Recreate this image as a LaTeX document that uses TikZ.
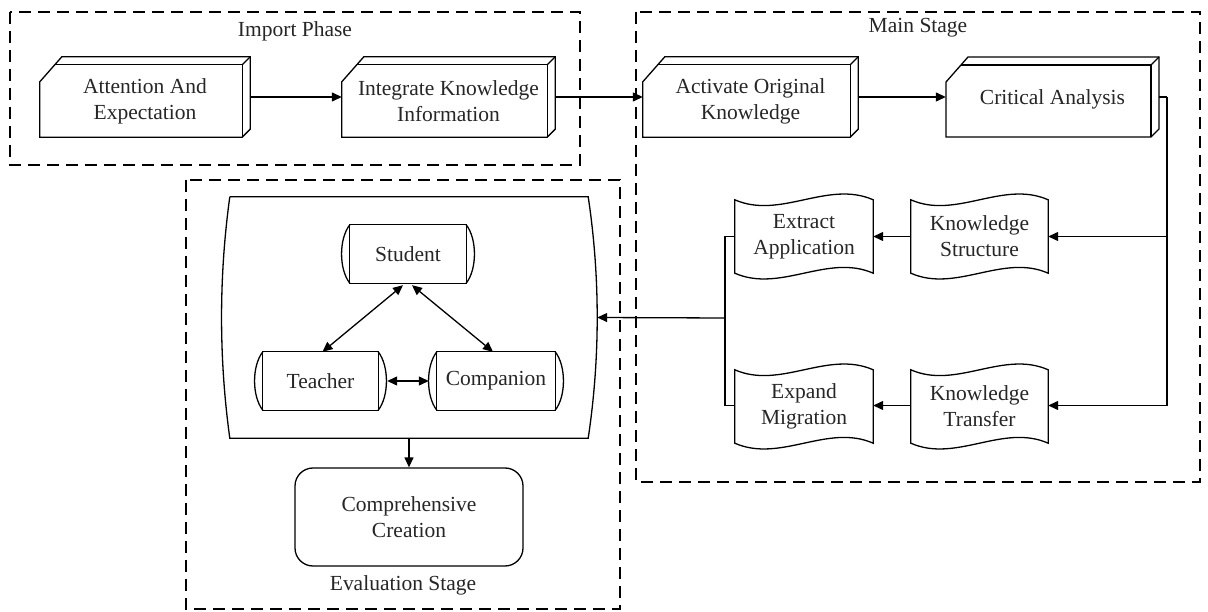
\documentclass[tikz,border=0pt]{standalone}
\usepackage{fontspec}
\setmainfont{Liberation Serif}
\usetikzlibrary{arrows.meta,calc}
\newcommand\threedbox[1]{%
  \draw[ln] (#1.south west) -- ([yshift=-17pt]#1.north west) -- ([shift={(22pt,8pt)}]#1.north west)
    -- ([shift={(8pt,8pt)}]#1.north east) -- ([shift={(8pt,8pt)}]#1.south east) -- (#1.south east) -- cycle;
  \draw[ln] ([xshift=15pt]#1.north west) -- (#1.north east) -- (#1.south east);
  \draw[ln] (#1.north east) -- ([shift={(8pt,8pt)}]#1.north east);}
\newcommand\wavebox[1]{%
  \draw[ln] (#1.north west) .. controls ($(#1.north west)!0.33!(#1.north east)+(0,20)$) and ($(#1.north west)!0.67!(#1.north east)+(0,-20)$) .. (#1.north east)
    -- (#1.south east) .. controls ($(#1.south west)!0.67!(#1.south east)+(0,-20)$) and ($(#1.south west)!0.33!(#1.south east)+(0,20)$) .. (#1.south west) -- cycle;}
\newcommand\drumbox[1]{%
  \draw[ln] (#1.north west) rectangle (#1.south east);
  \draw[ln] (#1.north west) .. controls ([xshift=-11pt,yshift=-14pt]#1.north west) and ([xshift=-11pt,yshift=14pt]#1.south west) .. (#1.south west);
  \draw[ln] (#1.north east) .. controls ([xshift=11pt,yshift=-14pt]#1.north east) and ([xshift=11pt,yshift=14pt]#1.south east) .. (#1.south east);}
\begin{document}
\begin{tikzpicture}[x=1pt,y=-1pt,
  every node/.style={font=\fontsize{21.5}{26}\selectfont, align=center, inner sep=0pt, text=black!85},
  ln/.style={line width=1.3pt},
  arr/.style={line width=1.3pt,-{Triangle[length=10pt,width=9pt]}},
  darr/.style={line width=1.3pt,{Triangle[length=10pt,width=9pt]}-{Triangle[length=10pt,width=9pt]}},
  phase/.style={line width=1.5pt,dash pattern=on 12pt off 7pt},
  front/.style={minimum height=72pt},
  tapebox/.style={minimum height=73pt},
  drum/.style={minimum height=58pt},
]
\useasboundingbox (0,0) rectangle (1208,612);

% phase frames
\draw[phase] (10,12) rectangle (580,165);
\draw[phase] (636,12) rectangle (1200,482);
\draw[phase] (186,180) rectangle (620,609);
\node (lImport) at (295,31) {Import Phase};
\node (lMain) at (918,28) {Main Stage};
\node (lEval) at (403,585) {Evaluation Stage};

% top row 3D boxes
\node[front, minimum width=202pt] (att) at (141,101) {\hspace*{8pt}Attention And\\\hspace*{8pt}Expectation};
\node[front, minimum width=205pt] (int) at (444.5,101) {\hspace*{8pt}Integrate Knowledge\\\hspace*{8pt}Information};
\node[front, minimum width=207pt] (act) at (746.5,101) {\hspace*{8pt}Activate Original\\\hspace*{8pt}Knowledge};
\node[front, minimum width=205pt] (crit) at (1048.5,99) {\hspace*{8pt}Critical Analysis};
\threedbox{att}\threedbox{int}\threedbox{act}
\draw[ln] (946,137) -- (946,82) -- (968,57) -- (1159,57) -- (1159,129) -- (1151,137) -- cycle;
\draw[ln] (961,65) -- (1151,65) -- (1151,137);
\draw[ln] (1151,65) -- (1159,57);

\draw[arr] ([shift={(8pt,4pt)}]att.east) -- ([yshift=4pt]int.west);
\draw[arr] ([shift={(8pt,4pt)}]int.east) -- ([yshift=4pt]act.west);
\draw[arr] ([shift={(8pt,4pt)}]act.east) -- (crit.west |- 0,97);

% main stage tapes
\node[tapebox, minimum width=138pt] (ea) at (804,236.5) {Extract\\Application};
\node[tapebox, minimum width=137pt] (ks) at (979.5,236.5) {Knowledge\\Structure};
\node[tapebox, minimum width=138pt] (em) at (804,406.5) {Expand\\Migration};
\node[tapebox, minimum width=137pt] (kt) at (979.5,406.5) {Knowledge\\Transfer};
\wavebox{ea}\wavebox{ks}\wavebox{em}\wavebox{kt}

\coordinate (rt) at (1167,97);
\draw[ln] (1159,97) -- (rt);
\draw[arr] (rt) |- (ks.east);
\draw[arr] (rt) |- ([yshift=1pt]kt.east);
\draw[arr] (ks.west) -- (ea.east);
\draw[arr] ([yshift=1pt]kt.west) -- ([yshift=1pt]em.east);

\coordinate (jn) at (725,318);
\draw[ln] (ea.west) -| (jn) |- ([yshift=1pt]em.west);

% evaluation stage
\node[minimum width=358pt, minimum height=241pt] (cont) at (409,317.5) {};
\draw[ln] (cont.north west) -- (cont.north east)
  .. controls ([xshift=12pt,yshift=-80pt]cont.north east) and ([xshift=12pt,yshift=80pt]cont.south east) .. (cont.south east)
  -- (cont.south west)
  .. controls ([xshift=-11pt,yshift=80pt]cont.south west) and ([xshift=-11pt,yshift=-80pt]cont.north west) .. (cont.north west);
\draw[arr] (jn) -- ([xshift=9pt]cont.east);

\node[drum, minimum width=116pt] (stu) at (408,254) {Student};
\node[drum, minimum width=115pt] (tea) at (320.5,381) {Teacher};
\node[drum, minimum width=118pt] (com) at (496,381) {Companion};
\drumbox{stu}\drumbox{tea}\drumbox{com}
\draw[darr] ([xshift=-5pt,yshift=-2pt]stu.south) -- ([xshift=2pt]tea.north);
\draw[darr] ([xshift=4pt,yshift=-2pt]stu.south) -- ([xshift=-3pt]com.north);
\draw[darr] ([xshift=9pt]tea.east) -- ([xshift=-8pt]com.west);

\node[draw, line width=1.3pt, rounded corners=18pt, minimum width=228pt, minimum height=98pt] (cc) at (409,517) {Comprehensive\\Creation};
\draw[arr] (cont.south) -- (cc.north);
\end{tikzpicture}
\end{document}
